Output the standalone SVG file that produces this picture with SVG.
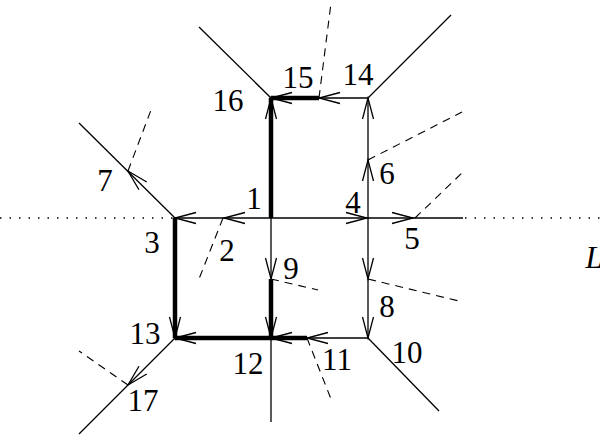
<svg xmlns="http://www.w3.org/2000/svg" xmlns:xlink="http://www.w3.org/1999/xlink" width="600" height="437" viewBox="0 0 600 437">
<style>
.e{stroke:#000;stroke-width:1.3;fill:none;stroke-linecap:butt}
.t{stroke:#000;stroke-width:4.5;fill:none}
.d{stroke:#000;stroke-width:1.1;fill:none;stroke-dasharray:8 6}
.o{stroke:#000;stroke-width:1.6;fill:none;stroke-dasharray:1.5 8}
.lb{font-family:"Liberation Serif",serif;font-size:31px;fill:#000;text-anchor:middle}
</style>
<defs>
<path id="ah" d="M-21,-5.5 L0,0 L-21,5.5" fill="none" stroke="#000" stroke-width="1.3"/>
</defs>
<rect width="600" height="437" fill="#fff"/>
<g id="connectors">
<line class="o" x1="0" y1="218" x2="175" y2="218"/>
<line class="o" x1="465" y1="218" x2="600" y2="218"/>
<line class="e" x1="175" y1="218" x2="463" y2="218"/>
<line class="e" x1="271" y1="218" x2="271" y2="422"/>
<line class="e" x1="368" y1="98" x2="368" y2="338"/>
<line class="e" x1="271" y1="98" x2="368" y2="98"/>
<line class="e" x1="175" y1="338" x2="368" y2="338"/>
<line class="e" x1="271" y1="98" x2="199" y2="27"/>
<line class="e" x1="368" y1="98" x2="451" y2="15"/>
<line class="e" x1="175" y1="218" x2="79" y2="123"/>
<line class="e" x1="175" y1="338" x2="79" y2="434"/>
<line class="e" x1="368" y1="338" x2="439" y2="411"/>
<line class="t" x1="271" y1="98" x2="271" y2="218"/>
<line class="t" x1="271" y1="98" x2="319" y2="98"/>
<line class="t" x1="175" y1="218" x2="175" y2="338"/>
<line class="t" x1="175" y1="338" x2="271" y2="338"/>
<line class="t" x1="271" y1="279" x2="271" y2="338"/>
<line class="t" x1="271" y1="338" x2="307" y2="338"/>
<line class="d" x1="128" y1="171" x2="151" y2="110"/>
<line class="d" x1="319" y1="98" x2="331" y2="3"/>
<line class="d" x1="368" y1="160" x2="462" y2="112"/>
<line class="d" x1="415" y1="218" x2="463" y2="172"/>
<line class="d" x1="223" y1="218" x2="199" y2="279"/>
<line class="d" x1="271" y1="279" x2="318" y2="290"/>
<line class="d" x1="368" y1="279" x2="463" y2="302"/>
<line class="d" x1="307" y1="338" x2="331" y2="399"/>
<line class="d" x1="128" y1="385" x2="79" y2="351"/>
<use xlink:href="#ah" transform="translate(175,218) rotate(180)"/>
<use xlink:href="#ah" transform="translate(224,218) rotate(180)"/>
<use xlink:href="#ah" transform="translate(271,98) rotate(-90)"/>
<use xlink:href="#ah" transform="translate(271,98) rotate(180)"/>
<use xlink:href="#ah" transform="translate(319,98) rotate(180)"/>
<use xlink:href="#ah" transform="translate(368,98) rotate(-90)"/>
<use xlink:href="#ah" transform="translate(368,160) rotate(-90)"/>
<use xlink:href="#ah" transform="translate(367,218)"/>
<use xlink:href="#ah" transform="translate(413,218)"/>
<use xlink:href="#ah" transform="translate(128,171) rotate(-135)"/>
<use xlink:href="#ah" transform="translate(271,279) rotate(90)"/>
<use xlink:href="#ah" transform="translate(271,338) rotate(90)"/>
<use xlink:href="#ah" transform="translate(368,279) rotate(90)"/>
<use xlink:href="#ah" transform="translate(368,338) rotate(90)"/>
<use xlink:href="#ah" transform="translate(175,338) rotate(180)"/>
<use xlink:href="#ah" transform="translate(175,338) rotate(90)"/>
<use xlink:href="#ah" transform="translate(271,338) rotate(180)"/>
<use xlink:href="#ah" transform="translate(307,338) rotate(180)"/>
<use xlink:href="#ah" transform="translate(128,385) rotate(135)"/>
</g>
<g id="n1"><text class="lb" x="254" y="209">1</text></g>
<g id="n2"><text class="lb" x="227" y="261">2</text></g>
<g id="n3"><text class="lb" x="152" y="253">3</text></g>
<g id="n4"><text class="lb" x="353" y="213">4</text></g>
<g id="n5"><text class="lb" x="412" y="249">5</text></g>
<g id="n6"><text class="lb" x="387" y="184">6</text></g>
<g id="n7"><text class="lb" x="105" y="191">7</text></g>
<g id="n8"><text class="lb" x="387" y="317">8</text></g>
<g id="n9"><text class="lb" x="291" y="279">9</text></g>
<g id="n10"><text class="lb" x="407" y="363">10</text></g>
<g id="n11"><text class="lb" x="337" y="370">11</text></g>
<g id="n12"><text class="lb" x="248" y="374">12</text></g>
<g id="n13"><text class="lb" x="145" y="344">13</text></g>
<g id="n14"><text class="lb" x="358" y="85">14</text></g>
<g id="n15"><text class="lb" x="298" y="88">15</text></g>
<g id="n16"><text class="lb" x="228" y="111">16</text></g>
<g id="n17"><text class="lb" x="143" y="411">17</text></g>
<g id="L"><text class="lb" x="594" y="268" font-style="italic">L</text></g>
</svg>
